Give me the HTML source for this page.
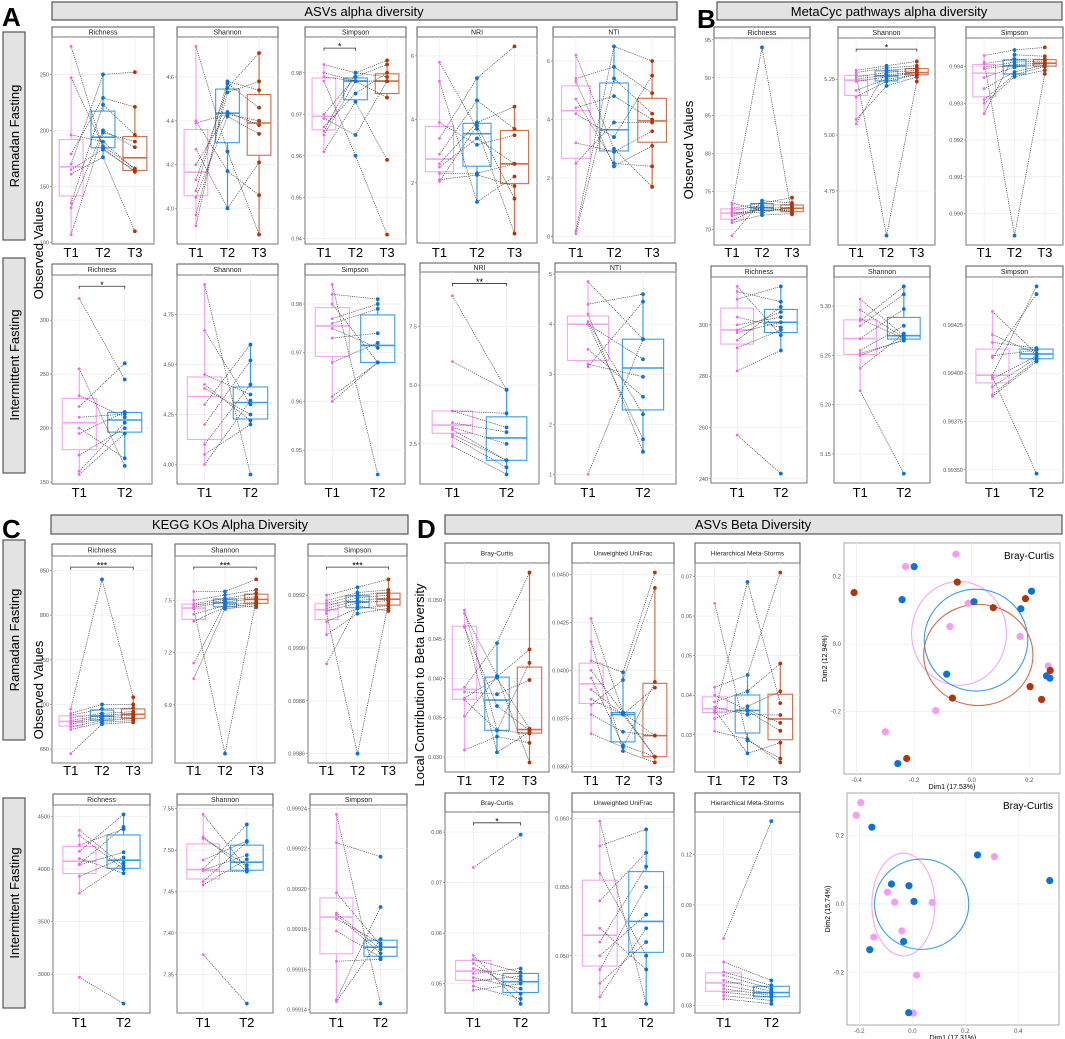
<!DOCTYPE html>
<html><head><meta charset="utf-8">
<style>
html,body{margin:0;padding:0;background:#fff;}
svg{display:block;font-family:"Liberation Sans",Arial,sans-serif;}
</style></head>
<body>
<svg id="fig" width="1065" height="1039" viewBox="0 0 1065 1039" xmlns="http://www.w3.org/2000/svg">
<g>
<rect x="52" y="2" width="625" height="18" fill="#e3e3e3" stroke="#555" stroke-width="1.2"/>
<text x="364" y="16" font-size="13" text-anchor="middle">ASVs alpha diversity</text>
<rect x="717" y="2" width="345" height="18" fill="#e3e3e3" stroke="#555" stroke-width="1.2"/>
<text x="889" y="16" font-size="13" text-anchor="middle">MetaCyc pathways alpha diversity</text>
<rect x="51" y="515" width="357" height="19" fill="#e3e3e3" stroke="#555" stroke-width="1.2"/>
<text x="230" y="529" font-size="13" text-anchor="middle">KEGG KOs Alpha Diversity</text>
<rect x="445" y="515" width="617" height="19" fill="#e3e3e3" stroke="#555" stroke-width="1.2"/>
<text x="753" y="529" font-size="13" text-anchor="middle">ASVs  Beta Diversity</text>
<text x="2" y="26" font-size="26" font-weight="bold">A</text>
<text x="697" y="28" font-size="26" font-weight="bold">B</text>
<text x="2" y="538" font-size="26" font-weight="bold">C</text>
<text x="417" y="538" font-size="26" font-weight="bold">D</text>
<rect x="3" y="32" width="22" height="208" fill="#e3e3e3" stroke="#555" stroke-width="1.2"/>
<text transform="translate(19,136) rotate(-90)" font-size="13" text-anchor="middle">Ramadan Fasting</text>
<rect x="3" y="258" width="22" height="215" fill="#e3e3e3" stroke="#555" stroke-width="1.2"/>
<text transform="translate(19,365) rotate(-90)" font-size="13" text-anchor="middle">Intermittent Fasting</text>
<rect x="3" y="540" width="22" height="200" fill="#e3e3e3" stroke="#555" stroke-width="1.2"/>
<text transform="translate(19,640) rotate(-90)" font-size="13" text-anchor="middle">Ramadan Fasting</text>
<rect x="3" y="798" width="22" height="210" fill="#e3e3e3" stroke="#555" stroke-width="1.2"/>
<text transform="translate(19,903) rotate(-90)" font-size="13" text-anchor="middle">Intermittent Fasting</text>
<text transform="translate(43,250) rotate(-90)" font-size="13" text-anchor="middle">Observed Values</text>
<text transform="translate(43,690) rotate(-90)" font-size="13" text-anchor="middle">Observed Values</text>
<text transform="translate(693,150) rotate(-90)" font-size="13" text-anchor="middle">Observed Values</text>
<text transform="translate(424,685) rotate(-90)" font-size="13" text-anchor="middle">Local Contribution to Beta Diversity</text>
</g>
<g id="plots"></g>
</svg>
<script>
// ---- data: A row1 (Ramadan, ASVs)
const aRichT1=[275,247,179,170,161,135,131,107,165,196];
const aRichT2=[184,186,229,250,176,223,200,198,183,190];
const aRichT3=[163,166,221,252,110,196,185,190,164,165];
const aShanT1=[4.74,4.40,4.27,4.13,4.08,3.97,3.92,4.20,4.05,4.39];
const aShanT2=[4.26,4.17,4.00,4.55,4.58,4.53,4.57,4.44,4.42,4.43];
const aShanT3=[3.88,4.06,4.21,4.71,4.54,4.58,4.46,4.38,4.34,4.40];
const aSimpT1=[0.982,0.980,0.978,0.970,0.967,0.966,0.965,0.961,0.969,0.979];
const aSimpT2=[0.980,0.978,0.960,0.979,0.975,0.980,0.978,0.973,0.965,0.978];
const aSimpT3=[0.983,0.978,0.941,0.982,0.980,0.979,0.978,0.959,0.978,0.974];
const aNriT1=[5.8,5.2,3.4,2.9,2.6,2.3,2.1,2.05,3.9,2.5];
const aNriT2=[3.7,1.4,5.3,4.6,3.9,2.3,2.25,3.8,3.2,3.4];
const aNriT3=[0.4,2.2,6.3,3.7,4.4,2.6,1.9,1.5,3.5,2.6];
const aNtiT1=[6.2,5.4,5.3,4.7,4.2,3.2,0.2,0.1,4.4,2.5];
const aNtiT2=[3.0,5.8,2.4,2.5,3.4,2.9,6.5,5.4,4.8,3.9];
const aNtiT3=[1.7,4.9,3.1,2.4,5.5,3.6,6.0,4.2,4.0,3.9];
// A row2 (Intermittent, ASVs)
const a2RichT1=[320,255,230,220,210,200,195,175,160,157];
const a2RichT2=[245,165,210,260,213,172,215,200,205,195];
const a2ShanT1=[4.90,4.67,4.45,4.40,4.30,4.20,4.10,4.05,4.00,4.38];
const a2ShanT2=[3.95,4.30,4.35,4.22,4.60,4.52,4.40,4.20,4.32,4.25];
const a2SimpT1=[0.984,0.982,0.980,0.977,0.976,0.975,0.973,0.968,0.961,0.960];
const a2SimpT2=[0.945,0.981,0.968,0.980,0.979,0.971,0.974,0.972,0.968,0.968];
const a2NriT1=[8.8,6.0,3.9,3.9,3.4,3.2,3.1,2.9,2.8,2.4];
const a2NriT2=[4.8,4.8,3.8,3.2,3.0,2.5,1.8,1.8,1.5,1.2];
const a2NtiT1=[4.85,4.4,4.2,4.05,4.0,4.0,3.5,3.2,3.15,1.0];
const a2NtiT2=[3.7,4.6,1.45,2.2,3.3,1.7,2.55,2.95,4.45,3.7];
// B row1 (MetaCyc Ramadan)
const bRichT1=[73.5,73.2,72.8,72.5,72.3,72.0,71.8,71.2,70.9,69.2];
const bRichT2=[72.5,94.0,73.5,73.2,72.2,72.8,72.6,73.0,71.9,73.8];
const bRichT3=[72.7,72.0,74.2,73.3,73.0,72.9,72.5,72.3,72.1,73.5];
const bShanT1=[5.29,5.28,5.27,5.26,5.25,5.24,5.20,5.17,5.07,5.05];
const bShanT2=[5.31,5.30,4.55,5.28,5.27,5.26,5.25,5.24,5.22,5.29];
const bShanT3=[5.33,5.31,5.24,5.29,5.28,5.28,5.27,5.27,5.26,5.30];
const bSimpT1=[0.99430,0.99412,0.99408,0.99398,0.99394,0.99370,0.99340,0.99310,0.99300,0.99272];
const bSimpT2=[0.99445,0.98940,0.99420,0.99412,0.99405,0.99398,0.99385,0.99378,0.99372,0.99432];
const bSimpT3=[0.99452,0.99380,0.99420,0.99415,0.99410,0.99408,0.99405,0.99400,0.99390,0.99428];
// B row2 (MetaCyc Intermittent)
const b2RichT1=[315,313,310,303,300,298,297,294,291,282,257];
const b2RichT2=[296,309,315,299,303,305,301,307,298,290,242];
const b2ShanT1=[5.307,5.296,5.287,5.285,5.280,5.267,5.255,5.250,5.237,5.214,5.252];
const b2ShanT2=[5.270,5.268,5.267,5.320,5.312,5.297,5.280,5.266,5.272,5.130,5.265];
const b2SimpT1=[0.99432,0.99420,0.99416,0.99409,0.99408,0.99399,0.99397,0.99393,0.99389,0.99388,0.99398];
const b2SimpT2=[0.99410,0.99410,0.99413,0.99412,0.99441,0.99445,0.99409,0.99408,0.99407,0.99406,0.99348];
// C row1 (KEGG Ramadan)
const cRichT1=[695,690,688,685,682,680,678,675,672,645];
const cRichT2=[840,700,695,690,688,686,684,682,680,678];
const cRichT3=[708,700,696,692,690,688,686,684,682,680];
const cShanT1=[7.55,7.50,7.48,7.47,7.46,7.45,7.42,7.38,7.05,7.14];
const cShanT2=[7.55,7.53,7.51,7.50,7.49,6.62,7.47,7.46,7.45,7.48];
const cShanT3=[7.62,7.56,7.54,7.52,7.51,7.50,7.49,7.48,7.47,7.46];
const cSimpT1=[0.99920,0.99918,0.99917,0.99916,0.99915,0.99914,0.99913,0.99910,0.99905,0.99894];
const cSimpT2=[0.99923,0.99921,0.99920,0.99919,0.99918,0.99917,0.99860,0.99915,0.99913,0.99916];
const cSimpT3=[0.99926,0.99922,0.99921,0.99920,0.99919,0.99918,0.99917,0.99916,0.99915,0.99914];
// C row2 (KEGG Intermittent)
const c2RichT1=[4370,4320,4230,4170,4100,4050,4040,3930,3770,2970];
const c2RichT2=[4030,4000,4380,4520,3960,4400,4160,4110,4060,2720];
const c2ShanT1=[7.543,7.516,7.514,7.488,7.477,7.476,7.462,7.458,7.475,7.374];
const c2ShanT2=[7.478,7.475,7.482,7.511,7.531,7.494,7.510,7.489,7.474,7.315];
const c2SimpT1=[0.999237,0.999223,0.999198,0.999188,0.999187,0.999185,0.999179,0.999164,0.999145,0.999144];
const c2SimpT2=[0.999143,0.999216,0.999172,0.999170,0.999168,0.999173,0.999166,0.999165,0.999191,0.999175];
// D row1 (beta Ramadan)
const dBrayT1=[0.0487,0.0483,0.0467,0.0389,0.0383,0.0373,0.0352,0.0309,0.0465,0.0375];
const dBrayT2=[0.0334,0.0403,0.0306,0.0445,0.0380,0.0334,0.0402,0.0326,0.0365,0.0401];
const dBrayT3=[0.0420,0.0293,0.0332,0.0535,0.0398,0.0330,0.0437,0.0318,0.0334,0.0336];
const dUniT1=[0.0427,0.0415,0.0405,0.0396,0.0385,0.0382,0.0377,0.0367,0.0400,0.0390];
const dUniT2=[0.0378,0.0358,0.0399,0.0361,0.0377,0.0395,0.0368,0.0360,0.0378,0.0377];
const dUniT3=[0.0355,0.0352,0.0451,0.0355,0.0391,0.0443,0.0366,0.0394,0.0366,0.0355];
const dMetaT1=[0.0632,0.0420,0.0400,0.0383,0.0362,0.0355,0.0341,0.0309,0.0370,0.0360];
const dMetaT2=[0.0286,0.0451,0.0363,0.0410,0.0253,0.0686,0.0372,0.0289,0.0351,0.0360];
const dMetaT3=[0.0240,0.0710,0.0330,0.0480,0.0280,0.0380,0.0410,0.0230,0.0350,0.0310];
// D row2 (beta Intermittent)
const d2BrayT1=[0.0730,0.0556,0.0548,0.0540,0.0530,0.0520,0.0512,0.0505,0.0495,0.0487];
const d2BrayT2=[0.0795,0.0460,0.0522,0.0480,0.0508,0.0530,0.0490,0.0515,0.0470,0.0500];
const d2UniT1=[0.0598,0.0580,0.0560,0.0540,0.0520,0.0510,0.0500,0.0490,0.0480,0.0470];
const d2UniT2=[0.0465,0.0592,0.0500,0.0575,0.0490,0.0565,0.0530,0.0550,0.0510,0.0520];
const d2MetaT1=[0.0700,0.0560,0.0500,0.0480,0.0450,0.0420,0.0400,0.0380,0.0360,0.0340];
const d2MetaT2=[0.1400,0.0450,0.0420,0.0400,0.0385,0.0370,0.0360,0.0350,0.0330,0.0310];
// PCoA 1 (Ramadan, three groups)
const pc1PinkX=[-0.055,-0.23,-0.012,-0.076,0.168,0.266,-0.125,-0.30];
const pc1PinkY=[0.267,0.23,0.121,0.052,0.023,-0.065,-0.197,-0.26];
const pc1BlueX=[-0.2,-0.242,0.008,0.208,0.171,-0.087,0.26,0.272,-0.257];
const pc1BlueY=[0.23,0.132,0.126,0.157,0.105,-0.089,-0.094,-0.101,-0.354];
const pc1RustX=[-0.409,-0.05,0.187,0.075,0.273,0.203,0.243,-0.067,-0.226];
const pc1RustY=[0.153,0.184,0.135,0.108,-0.078,-0.126,-0.164,-0.16,-0.339];
const pc1Ell=[[-0.044,0.032,0.165,0.154],[0.015,0.012,0.18,0.151],[0.023,-0.032,0.19,0.15]];
// PCoA 2 (Intermittent, two groups)
const pc2PinkX=[-0.195,-0.212,0.31,-0.094,-0.067,0.075,-0.04,-0.146,0.016,0.004];
const pc2PinkY=[0.296,0.259,0.138,0.034,0.005,0.004,-0.079,-0.097,-0.208,-0.319];
const pc2BlueX=[-0.153,0.246,0.519,-0.079,-0.013,0.006,-0.033,-0.161,-0.014];
const pc2BlueY=[0.224,0.143,0.068,0.058,0.053,0.007,-0.11,-0.134,-0.318];
const pc2Ell=[[-0.034,-0.002,0.119,0.15],[0.035,-0.001,0.178,0.132]];
// tick label arrays
const ticksARich=[100,150,200,250]; const ticksAShan=[4.0,4.2,4.4,4.6]; const ticksASimp=[0.94,0.95,0.96,0.97,0.98];
const ticksANri=[2,4,6]; const ticksANti=[0,2,4,6];
const ticksA2Rich=[150,200,250,300]; const ticksA2Shan=[4.00,4.25,4.50,4.75]; const ticksA2Simp=[0.95,0.96,0.97,0.98];
const ticksA2Nri=[2.5,5.0,7.5]; const ticksA2Nti=[1,2,3,4,5];
const ticksBRich=[70,75,80,85,90,95]; const ticksBShan=[4.75,5.00,5.25]; const ticksBSimp=[0.990,0.991,0.992,0.993,0.994];
const ticksB2Rich=[240,260,280,300]; const ticksB2Shan=[5.15,5.20,5.25,5.30]; const ticksB2Simp=[0.99350,0.99375,0.99400,0.99425];
const ticksCRich=[650,700,750,800,850]; const ticksCShan=[6.9,7.2,7.5]; const ticksCSimp=[0.9986,0.9988,0.9990,0.9992];
const ticksC2Rich=[3000,3500,4000,4500]; const ticksC2Shan=[7.35,7.40,7.45,7.50,7.55]; const ticksC2Simp=[0.99914,0.99916,0.99918,0.99920,0.99922,0.99924];
const ticksDBray=[0.030,0.035,0.040,0.045,0.050]; const ticksDUni=[0.0350,0.0375,0.0400,0.0425,0.0450]; const ticksDMeta=[0.03,0.04,0.05,0.06,0.07];
const ticksD2Bray=[0.05,0.06,0.07,0.08]; const ticksD2Uni=[0.045,0.050,0.055,0.060]; const ticksD2Meta=[0.03,0.06,0.09,0.12];
const pcTicks1X=[-0.4,-0.2,0.0,0.2]; const pcTicks1Y=[-0.2,0.0,0.2];
const pcTicks2X=[-0.2,0.0,0.2,0.4]; const pcTicks2Y=[-0.2,0.0,0.2];
const groupLabels3=["T1","T2","T3"]; const groupLabels2=["T1","T2"];

const NS="http://www.w3.org/2000/svg";
const root=document.getElementById('plots');
const PT=['#ee66e6','#0a72d8','#b0360a'];
const BX=['#f4a6f2','#3a9ee6','#cf6e48'];
function el(tag,attrs,parent){const e=document.createElementNS(NS,tag);for(const k in attrs)e.setAttribute(k,attrs[k]);(parent||root).appendChild(e);return e;}
function q(a,p){const s=[...a].sort((x,y)=>x-y);const i=(s.length-1)*p;const lo=Math.floor(i),hi=Math.ceil(i);return s[lo]+(s[hi]-s[lo])*(i-lo);}
function fmt(v,ticks){const d=Math.max(...ticks.map(t=>{const s=String(t);return s.includes('.')?s.split('.')[1].length:0}));return v.toFixed(d);}

function boxPanel(c){
  const g=el('g',{});
  
  
  const all=[].concat(...c.groups);
  let mn=Math.min(...all),mx=Math.max(...all);
  let top=mx; if(c.sig) top=mx+(mx-mn)*0.08;
  const r=top-mn; const y0=mn-r*0.05,y1=top+r*0.05;
  const ys=v=>c.y1-(v-y0)/(y1-y0)*(c.y1-c.y0);
  const n=c.groups.length; const u=(c.x1-c.x0)/(n+0.2);
  const xs=i=>c.x0+u*(i+0.6);
  const st=el('rect',{x:c.x0,y:c.sy,width:c.x1-c.x0,height:c.y0-c.sy,fill:'#fff',stroke:'#555','stroke-width':1},g);
  
  
  el('text',{x:(c.x0+c.x1)/2,y:c.sy+(c.y0-c.sy)/2+2.5,'font-size':c.fs||7,'text-anchor':'middle',fill:'#222'},g).textContent=c.title;
  el('rect',{x:c.x0,y:c.y0,width:c.x1-c.x0,height:c.y1-c.y0,fill:'#fff',stroke:'#777','stroke-width':1},g);
  c.ticks.forEach(t=>{if(t<y0||t>y1)return;const y=ys(t);
    el('line',{x1:c.x0,x2:c.x1,y1:y,y2:y,stroke:'#ececec','stroke-width':0.7},g);
    el('line',{x1:c.x0-2,x2:c.x0,y1:y,y2:y,stroke:'#555','stroke-width':0.5},g);
    const tl=el('text',{x:c.x0-3,y:y+2,'font-size':5.5,'text-anchor':'end',fill:'#555'},g);
    tl.textContent=fmt(t,c.ticks);
    
    
  });
  for(let i=0;i<n;i++){el('line',{x1:xs(i),x2:xs(i),y1:c.y0,y2:c.y1,stroke:'#ececec','stroke-width':0.7},g);}
  c.groups.forEach((d,i)=>{
    const q1=q(d,0.25),q2=q(d,0.5),q3=q(d,0.75),iq=q3-q1;
    const lo=Math.min(...d.filter(v=>v>=q1-1.5*iq)),hi=Math.max(...d.filter(v=>v<=q3+1.5*iq));
    const bw=u*0.75,x=xs(i);
    el('line',{x1:x,x2:x,y1:ys(hi),y2:ys(q3),stroke:BX[i],'stroke-width':1.2},g);
    el('line',{x1:x,x2:x,y1:ys(q1),y2:ys(lo),stroke:BX[i],'stroke-width':1.2},g);
    const b=el('rect',{x:x-bw/2,y:ys(q3),width:bw,height:Math.max(0.5,ys(q1)-ys(q3)),fill:'none',stroke:BX[i],'stroke-width':1.1},g);
    
    
    el('line',{x1:x-bw/2,x2:x+bw/2,y1:ys(q2),y2:ys(q2),stroke:BX[i],'stroke-width':1.6},g);
  });
  const m=c.groups[0].length;
  for(let k=0;k<m;k++){for(let i=0;i<n-1;i++){
    el('line',{x1:xs(i),y1:ys(c.groups[i][k]),x2:xs(i+1),y2:ys(c.groups[i+1][k]),stroke:'#444','stroke-width':0.7,'stroke-dasharray':'1.2,1'},g);}}
  c.groups.forEach((d,i)=>d.forEach(v=>{
    const p=el('circle',{cx:xs(i),cy:ys(v),r:i==0?1.4:1.9,fill:PT[i]},g);
    
    
  }));
  if(c.sig){const yb=ys(mx+(mx-mn)*0.07),xa=xs(c.sig[0]),xb=xs(c.sig[1]);
    el('path',{d:`M${xa},${yb+2.5}V${yb}H${xb}V${yb+2.5}`,fill:'none',stroke:'#333','stroke-width':0.8},g);
    const s=el('text',{x:(xa+xb)/2,y:yb+1.5,'font-size':9,'text-anchor':'middle'},g);s.textContent=c.sig[2];
    
    }
  c.labels.forEach((l,i)=>{const t=el('text',{x:xs(i),y:c.ly,'font-size':13,'text-anchor':'middle'},g);t.textContent=l;
    
    });
}

function P(name,title,x0,x1,sy,y0,y1,ly,groups,ticks,sig,fs){boxPanel({name,title,x0,x1,sy,y0,y1,ly,groups,ticks,sig,fs,labels:groups.length==3?groupLabels3:groupLabels2});}
P('a-richness','Richness',52,154,27,37,244,257,[aRichT1,aRichT2,aRichT3],ticksARich);
P('a-shannon','Shannon',177,278,27,37,244,257,[aShanT1,aShanT2,aShanT3],ticksAShan);
P('a-simpson','Simpson',305,406,27,37,244,257,[aSimpT1,aSimpT2,aSimpT3],ticksASimp,[0,1,'*']);
P('a-nri','NRI',417,537,27,37,243,257,[aNriT1,aNriT2,aNriT3],ticksANri);
P('a-nti','NTI',553,675,27,37,243,257,[aNtiT1,aNtiT2,aNtiT3],ticksANti);
P('a2-richness','Richness',52,152,264,275,484,497,[a2RichT1,a2RichT2],ticksA2Rich,[0,1,'*']);
P('a2-shannon','Shannon',177,278,264,275,484,497,[a2ShanT1,a2ShanT2],ticksA2Shan);
P('a2-simpson','Simpson',305,405,264,275,484,497,[a2SimpT1,a2SimpT2],ticksA2Simp);
P('a2-nri','NRI',420,539,263,272,484,497,[a2NriT1,a2NriT2],ticksA2Nri,[0,1,'**']);
P('a2-nti','NTI',555,676,263,272,484,497,[a2NtiT1,a2NtiT2],ticksA2Nti);
P('b-richness','Richness',714,810,27,38,245,257,[bRichT1,bRichT2,bRichT3],ticksBRich);
P('b-shannon','Shannon',838,935,27,38,245,257,[bShanT1,bShanT2,bShanT3],ticksBShan,[0,2,'*']);
P('b-simpson','Simpson',966,1063,27,38,245,257,[bSimpT1,bSimpT2,bSimpT3],ticksBSimp);
P('b2-richness','Richness',711,807,266,277,483,497,[b2RichT1,b2RichT2],ticksB2Rich);
P('b2-shannon','Shannon',834,930,266,277,483,497,[b2ShanT1,b2ShanT2],ticksB2Shan);
P('b2-simpson','Simpson',966,1063,266,277,483,497,[b2SimpT1,b2SimpT2],ticksB2Simp);
P('c-richness','Richness',52,152,544,556,763,775,[cRichT1,cRichT2,cRichT3],ticksCRich,[0,2,'***']);
P('c-shannon','Shannon',175,275,544,556,763,775,[cShanT1,cShanT2,cShanT3],ticksCShan,[0,2,'***']);
P('c-simpson','Simpson',308,407,544,556,763,775,[cSimpT1,cSimpT2,cSimpT3],ticksCSimp,[0,2,'***']);
P('c2-richness','Richness',53,150,794,805,1013,1027,[c2RichT1,c2RichT2],ticksC2Rich);
P('c2-shannon','Shannon',177,273,794,805,1013,1027,[c2ShanT1,c2ShanT2],ticksC2Shan);
P('c2-simpson','Simpson',310,407,794,805,1013,1027,[c2SimpT1,c2SimpT2],ticksC2Simp);
P('d-bray','Bray-Curtis',445,549,543,563,772,785,[dBrayT1,dBrayT2,dBrayT3],ticksDBray,null,6.5);
P('d-unifrac','Unweighted UniFrac',572,674,543,563,772,785,[dUniT1,dUniT2,dUniT3],ticksDUni,null,6.5);
P('d-meta','Hierarchical Meta-Storms',695,800,543,563,772,785,[dMetaT1,dMetaT2,dMetaT3],ticksDMeta,null,6.5);
P('d2-bray','Bray-Curtis',445,549,793,812,1013,1027,[d2BrayT1,d2BrayT2],ticksD2Bray,[0,1,'*'],6.5);
P('d2-unifrac','Unweighted UniFrac',572,674,793,812,1013,1027,[d2UniT1,d2UniT2],ticksD2Uni,null,6.5);
P('d2-meta','Hierarchical Meta-Storms',695,800,793,812,1013,1027,[d2MetaT1,d2MetaT2],ticksD2Meta,null,6.5);

function pcoa(c){
  const g=el('g',{});
  
  
  const xs=v=>c.x0+(v-c.xr[0])/(c.xr[1]-c.xr[0])*(c.x1-c.x0);
  const ys=v=>c.y1-(v-c.yr[0])/(c.yr[1]-c.yr[0])*(c.y1-c.y0);
  el('rect',{x:c.x0,y:c.y0,width:c.x1-c.x0,height:c.y1-c.y0,fill:'#fff',stroke:'#aaa','stroke-width':1},g);
  c.tx.forEach(t=>{const x=xs(t);el('line',{x1:x,x2:x,y1:c.y0,y2:c.y1,stroke:'#eee','stroke-width':0.7},g);
    el('text',{x:x,y:c.y1+8,'font-size':6,'text-anchor':'middle',fill:'#555'},g).textContent=t.toFixed(1);});
  c.ty.forEach(t=>{const y=ys(t);el('line',{x1:c.x0,x2:c.x1,y1:y,y2:y,stroke:'#eee','stroke-width':0.7},g);
    el('text',{x:c.x0-3,y:y+2,'font-size':6,'text-anchor':'end',fill:'#555'},g).textContent=t.toFixed(1);});
  el('text',{x:(c.x0+c.x1)/2,y:c.y1+15,'font-size':7,'text-anchor':'middle'},g).textContent=c.xl;
  el('text',{transform:`translate(${c.x0-17},${(c.y0+c.y1)/2}) rotate(-90)`,'font-size':7,'text-anchor':'middle'},g).textContent=c.yl;
  el('text',{x:c.x1-6,y:c.y0+16,'font-size':10,'text-anchor':'end'},g).textContent='Bray-Curtis';
  const kx=(c.x1-c.x0)/(c.xr[1]-c.xr[0]),ky=(c.y1-c.y0)/(c.yr[1]-c.yr[0]);
  c.ell.forEach((e,i)=>{const ee=el('ellipse',{cx:xs(e[0]),cy:ys(e[1]),rx:e[2]*kx,ry:e[3]*ky,fill:'none',stroke:i==0?'#f4a6f2':(i==1?'#3a9ee6':'#cf6e48'),'stroke-width':1.1},g);
    
    });
  const cols=['#f79cf0','#0a72d8','#b0360a'];
  c.pts.forEach((s,i)=>s[0].forEach((v,k)=>{const p=el('circle',{cx:xs(v),cy:ys(s[1][k]),r:3.6,fill:cols[i]},g);
    
    }));
}
pcoa({name:'pcoa-ramadan',x0:844,x1:1060,y0:543,y1:774,xr:[-0.444,0.307],yr:[-0.385,0.30],tx:pcTicks1X,ty:pcTicks1Y,
  xl:'Dim1 (17.53%)',yl:'Dim2 (12.94%)',ell:pc1Ell,pts:[[pc1PinkX,pc1PinkY],[pc1BlueX,pc1BlueY],[pc1RustX,pc1RustY]]});
pcoa({name:'pcoa-intermittent',x0:847,x1:1059,y0:793,y1:1025,xr:[-0.247,0.554],yr:[-0.354,0.324],tx:pcTicks2X,ty:pcTicks2Y,
  xl:'Dim1 (17.31%)',yl:'Dim2 (15.74%)',ell:pc2Ell,pts:[[pc2PinkX,pc2PinkY],[pc2BlueX,pc2BlueY]]});
</script>
</body></html>
